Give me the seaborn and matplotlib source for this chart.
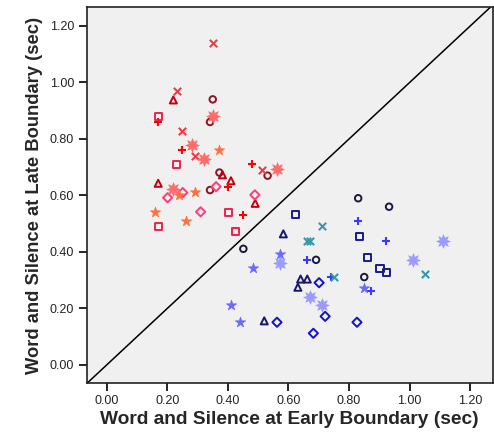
import matplotlib
matplotlib.use("Agg")
import matplotlib.pyplot as plt
import seaborn as sns
import pandas as pd

# ---- data (sec) ----
red_circle_x = [0.35, 0.341, 0.372, 0.531, 0.341]
red_circle_y = [0.94, 0.86, 0.681, 0.670, 0.619]
red_tri_x = [0.22, 0.382, 0.17, 0.41, 0.49]
red_tri_y = [0.938, 0.673, 0.643, 0.652, 0.572]
red_plus_x = [0.17, 0.25, 0.481, 0.401, 0.451]
red_plus_y = [0.859, 0.76, 0.71, 0.63, 0.53]
red_x_x = [0.35, 0.231, 0.25, 0.291, 0.511]
red_x_y = [1.14, 0.971, 0.829, 0.74, 0.69]
red_sq_x = [0.17, 0.231, 0.172, 0.401, 0.424]
red_sq_y = [0.881, 0.711, 0.49, 0.538, 0.472]
red_dia_x = [0.361, 0.251, 0.489, 0.201, 0.31]
red_dia_y = [0.631, 0.61, 0.602, 0.592, 0.542]
red_star_x = [0.371, 0.291, 0.24, 0.159, 0.261]
red_star_y = [0.761, 0.613, 0.60, 0.542, 0.511]
red_sun_x = [0.35, 0.28, 0.321, 0.561, 0.22]
red_sun_y = [0.88, 0.78, 0.729, 0.693, 0.622]

blue_circle_x = [0.83, 0.932, 0.451, 0.691, 0.85]
blue_circle_y = [0.59, 0.56, 0.411, 0.372, 0.311]
blue_plus_x = [0.83, 0.921, 0.662, 0.74, 0.872]
blue_plus_y = [0.511, 0.44, 0.372, 0.313, 0.26]
blue_sq_x = [0.624, 0.835, 0.861, 0.902, 0.923]
blue_sq_y = [0.531, 0.454, 0.381, 0.342, 0.328]
blue_x_x = [0.712, 0.66, 0.671, 1.052, 0.751]
blue_x_y = [0.49, 0.44, 0.44, 0.321, 0.311]
blue_tri_x = [0.583, 0.640, 0.662, 0.631, 0.52]
blue_tri_y = [0.464, 0.304, 0.304, 0.275, 0.156]
blue_sun_x = [1.111, 0.572, 1.01, 0.67, 0.712]
blue_sun_y = [0.44, 0.36, 0.372, 0.242, 0.212]
blue_star_x = [0.572, 0.482, 0.85, 0.411, 0.441]
blue_star_y = [0.392, 0.342, 0.273, 0.212, 0.151]
blue_dia_x = [0.701, 0.562, 0.721, 0.826, 0.682]
blue_dia_y = [0.291, 0.151, 0.172, 0.151, 0.112]

tick_vals = [0.0, 0.2, 0.4, 0.6, 0.8, 1.0, 1.2]
tick_labels = ["0.00", "0.20", "0.40", "0.60", "0.80", "1.00", "1.20"]

SUN = (8, 1, 0)
# (x, y, marker, color, hollow, size)
groups = [
    (red_circle_x, red_circle_y, "o", "#8e1424", True, 22),
    (red_tri_x, red_tri_y, "^", "#c00010", True, 26),
    (red_plus_x, red_plus_y, "+", "#ff0000", False, 32),
    (red_x_x, red_x_y, "x", "#f53a44", False, 28),
    (red_sq_x, red_sq_y, "s", "#f0204c", True, 26),
    (red_dia_x, red_dia_y, "D", "#ff3c78", True, 22),
    (red_star_x, red_star_y, "*", "#ff7040", False, 60),
    (red_sun_x, red_sun_y, SUN, "#ff6b6b", False, 95),
    (blue_circle_x, blue_circle_y, "o", "#1a1a3c", True, 22),
    (blue_plus_x, blue_plus_y, "+", "#3a3aff", False, 32),
    (blue_sq_x, blue_sq_y, "s", "#1a1a8c", True, 26),
    (blue_x_x, blue_x_y, "x", "#3a96aa", False, 28),
    (blue_tri_x, blue_tri_y, "^", "#16166e", True, 26),
    (blue_sun_x, blue_sun_y, SUN, "#9a9aff", False, 95),
    (blue_star_x, blue_star_y, "*", "#6a6aff", False, 60),
    (blue_dia_x, blue_dia_y, "D", "#1212cc", True, 22),
]

sns.set_theme(style="white")
plt.rcParams["font.family"] = ["Liberation Sans", "DejaVu Sans"]

fig = plt.figure(figsize=(4.94, 4.36), dpi=100)
ax = fig.add_axes([0.1755, 0.1222, 0.8219, 0.8611])
ax.set_facecolor("#f0f0f0")

for gx, gy, m, c, hollow, s in groups:
    df = pd.DataFrame({"early": gx, "late": gy})
    if hollow:
        sns.scatterplot(data=df, x="early", y="late", ax=ax, marker=m, s=s,
                        color=c, facecolor="none", edgecolor=c, linewidth=1.4,
                        zorder=3)
    elif m in ("+", "x"):
        sns.scatterplot(data=df, x="early", y="late", ax=ax, marker=m, s=s,
                        color=c, linewidth=1.5, zorder=3)
    else:
        sns.scatterplot(data=df, x="early", y="late", ax=ax, marker=m, s=s,
                        color=c, edgecolor=c, linewidth=0.5, zorder=3)

ax.axline((0, 0), slope=1, color="black", linewidth=1.1, zorder=2)

ax.set_xlim(-0.066, 1.274)
ax.set_ylim(-0.063, 1.266)
ax.set_xticks(tick_vals)
ax.set_xticklabels(tick_labels)
ax.set_yticks(tick_vals)
ax.set_yticklabels(tick_labels)
ax.tick_params(axis="both", direction="out", length=6, width=1.2,
               color="black", labelsize=9, labelcolor="#222222", pad=3,
               bottom=True, left=True)
for sp in ax.spines.values():
    sp.set_color("#222222")
    sp.set_linewidth(1.2)

ax.set_xlabel("Word and Silence at Early Boundary (sec)", fontsize=13.8,
              fontweight="bold", labelpad=3)
ax.set_ylabel("Word and Silence at Late Boundary (sec)", fontsize=13.2,
              fontweight="bold", labelpad=5)

fig.savefig("out.png", dpi=100)
